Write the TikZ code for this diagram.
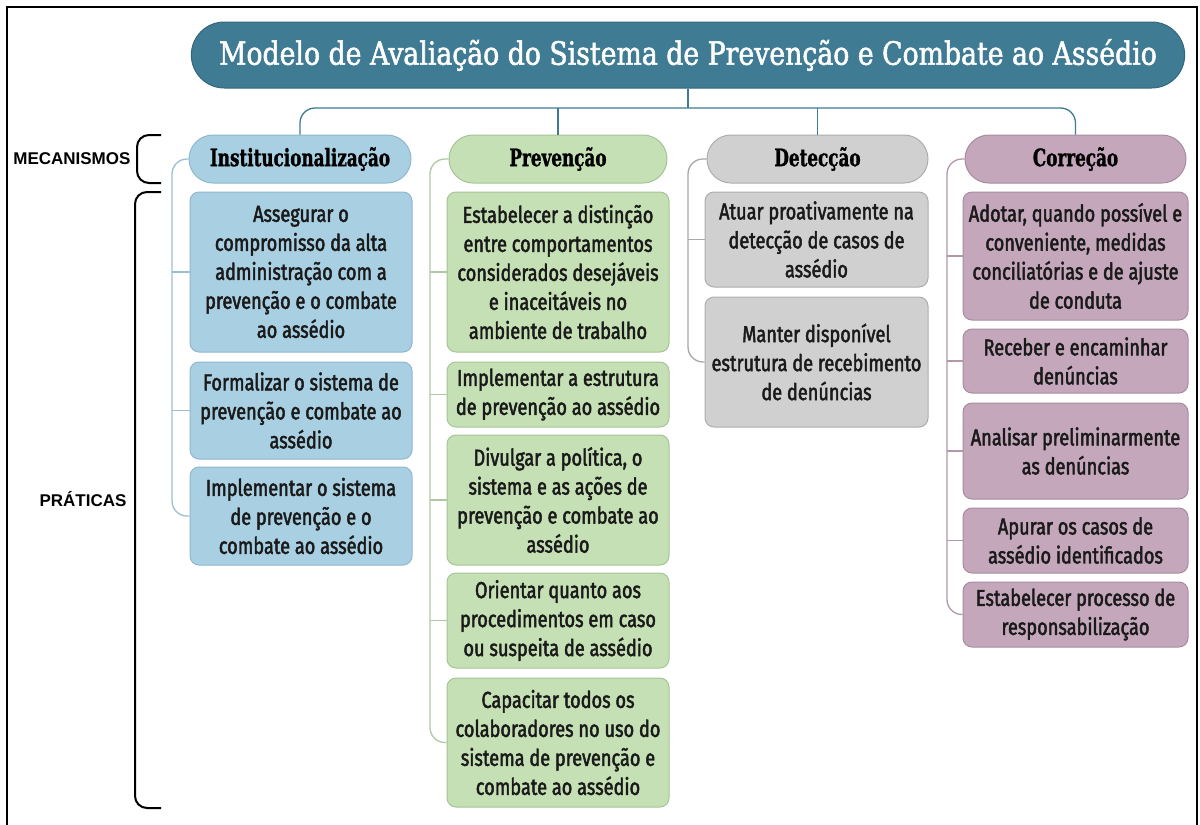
\documentclass[tikz,border=0pt]{standalone}
\usepackage{fontspec}
\usetikzlibrary{shapes.misc}
\newfontfamily\bodyf[FakeStretch=0.79,FakeBold=2]{Fira Sans}
\newfontfamily\headf[FakeStretch=0.70,FakeBold=1.2]{DejaVu Serif}
\newfontfamily\titlef[FakeStretch=0.835,FakeBold=1.6]{DejaVu Serif}
\newfontfamily\labf{Liberation Sans}
\definecolor{titlefill}{HTML}{3F7B93}
\definecolor{titledraw}{HTML}{33677D}
\definecolor{bluefill}{HTML}{A9CFE2}
\definecolor{bluedraw}{HTML}{8FB8CC}
\definecolor{blueline}{HTML}{9DBFD0}
\definecolor{greenfill}{HTML}{C5E0B4}
\definecolor{greendraw}{HTML}{A6C496}
\definecolor{greenline}{HTML}{AFC9A2}
\definecolor{grayfill}{HTML}{D0D0D0}
\definecolor{graydraw}{HTML}{ADADAD}
\definecolor{grayline}{HTML}{A8A8A8}
\definecolor{mauvefill}{HTML}{C4A7BB}
\definecolor{mauvedraw}{HTML}{A78C9F}
\definecolor{mauveline}{HTML}{B497AB}
\definecolor{txt}{HTML}{1A1A1A}
\tikzset{
 pbox/.style={draw, line width=1pt, rounded corners=9pt, align=center, inner sep=2pt, text=txt, font=\bodyf\fontsize{23}{29}\selectfont},
 bluebox/.style={pbox, fill=bluefill, draw=bluedraw, minimum width=222pt},
 greenbox/.style={pbox, fill=greenfill, draw=greendraw, minimum width=222pt},
 graybox/.style={pbox, fill=grayfill, draw=graydraw, minimum width=223pt},
 mauvebox/.style={pbox, fill=mauvefill, draw=mauvedraw, minimum width=225pt},
 hdr/.style={rounded rectangle, draw, line width=1pt, minimum height=48pt, inner sep=2pt, text=black, font=\headf\bfseries\fontsize{24}{28}\selectfont},
 conn/.style={line width=1.3pt, rounded corners=15pt},
 branch/.style={line width=1.3pt},
 brk/.style={line width=2pt, rounded corners=12pt, black},
 lab/.style={font=\labf\bfseries\fontsize{17}{20}\selectfont, text=black},
}
\begin{document}
\begin{tikzpicture}[x=1pt,y=-1pt]
\useasboundingbox (0,0) rectangle (1200,825);
\draw[line width=2pt] (7,826) -- (7,7) -- (1197,7) -- (1197,826);

\node[rounded rectangle, fill=titlefill, draw=titledraw, line width=1pt, minimum width=1000pt, minimum height=66pt, text=white, font=\titlef\fontsize{32}{36}\selectfont] (title) at (688,55) {Modelo de Avaliação do Sistema de Prevenção e Combate ao Assédio};

\node[hdr, fill=bluefill, draw=bluedraw, minimum width=226pt] (h1) at (300,159) {Institucionalização};
\node[hdr, fill=greenfill, draw=greendraw, minimum width=222pt] (h2) at (558,159) {Prevenção};
\node[hdr, fill=grayfill, draw=graydraw, minimum width=225pt] (h3) at (817.5,159) {Detecção};
\node[hdr, fill=mauvefill, draw=mauvedraw, minimum width=225pt] (h4) at (1075.5,159) {Correção};

\node[bluebox, minimum height=160pt] (b11) at (301,272) {Assegurar o\\compromisso da alta\\administração com a\\prevenção e o combate\\ao assédio};
\node[bluebox, minimum height=97pt] (b12) at (301,410.5) {Formalizar o sistema de\\prevenção e combate ao\\assédio};
\node[bluebox, minimum height=98pt] (b13) at (301,516) {Implementar o sistema\\de prevenção e o\\combate ao assédio};

\node[greenbox, minimum height=160pt] (b21) at (558,272) {Estabelecer a distinção\\entre comportamentos\\considerados desejáveis\\e inaceitáveis no\\ambiente de trabalho};
\node[greenbox, minimum height=65pt] (b22) at (558,394.5) {Implementar a estrutura\\de prevenção ao assédio};
\node[greenbox, minimum height=130pt] (b23) at (558,500) {Divulgar a política, o\\sistema e as ações de\\prevenção e combate ao\\assédio};
\node[greenbox, minimum height=95pt] (b24) at (558,620.5) {Orientar quanto aos\\procedimentos em caso\\ou suspeita de assédio};
\node[greenbox, minimum height=129pt] (b25) at (558,742.5) {Capacitar todos os\\colaboradores no uso do\\sistema de prevenção e\\combate ao assédio};

\node[graybox, minimum height=95pt] (b31) at (816.5,239.5) {Atuar proativamente na\\detecção de casos de\\assédio};
\node[graybox, minimum height=130pt] (b32) at (816.5,362) {Manter disponível\\estrutura de recebimento\\de denúncias};

\node[mauvebox, minimum height=128pt] (b41) at (1075.5,256) {Adotar, quando possível e\\conveniente, medidas\\conciliatórias e de ajuste\\de conduta};
\node[mauvebox, minimum height=64pt] (b42) at (1075.5,361) {Receber e encaminhar\\denúncias};
\node[mauvebox, minimum height=96pt] (b43) at (1075.5,451) {Analisar preliminarmente\\as denúncias};
\node[mauvebox, minimum height=65pt] (b44) at (1075.5,540.5) {Apurar os casos de\\assédio identificados};
\node[mauvebox, minimum height=65pt] (b45) at (1075.5,614.5) {Estabelecer processo de\\responsabilização};

% top connectors
\coordinate (hb) at (688,108);
\draw[conn, titlefill] (h1.north) |- (hb) -| (h4.north);
\draw[branch, titlefill] (title.south) -- (hb);
\draw[branch, titlefill] (h2.north) -- (h2.north |- hb);
\draw[branch, titlefill] (h3.north) -- (h3.north |- hb);

% column connectors
\coordinate (v1) at (172,0);
\coordinate (v2) at (430,0);
\coordinate (v3) at (688,0);
\coordinate (v4) at (947,0);
\draw[conn, blueline] (h1.west) -| (v1 |- b13.west) -- (b13.west);
\draw[branch, blueline] (b11.west) -- (b11.west -| v1);
\draw[branch, blueline] (b12.west) -- (b12.west -| v1);

\draw[conn, greenline] (h2.west) -| (v2 |- b25.west) -- (b25.west);
\draw[branch, greenline] (b21.west) -- (b21.west -| v2);
\draw[branch, greenline] (b22.west) -- (b22.west -| v2);
\draw[branch, greenline] (b23.west) -- (b23.west -| v2);
\draw[branch, greenline] (b24.west) -- (b24.west -| v2);

\draw[conn, grayline] (h3.west) -| (v3 |- b32.west) -- (b32.west);
\draw[branch, grayline] (b31.west) -- (b31.west -| v3);

\draw[conn, mauveline] (h4.west) -| (v4 |- b45.west) -- (b45.west);
\draw[branch, mauveline] (b41.west) -- (b41.west -| v4);
\draw[branch, mauveline] (b42.west) -- (b42.west -| v4);
\draw[branch, mauveline] (b43.west) -- (b43.west -| v4);
\draw[branch, mauveline] (b44.west) -- (b44.west -| v4);

% brackets and labels
\draw[brk] (161,135) -- (137,135) -- (137,183) -- (161,183);
\draw[brk] (161,192) -- (135,192) -- (135,808) -- (161,808);
\node[lab, anchor=east] (mec) at (134,159) {MECANISMOS};
\node[lab] (prat) at (83,499) {PRÁTICAS};
\end{tikzpicture}
\end{document}
